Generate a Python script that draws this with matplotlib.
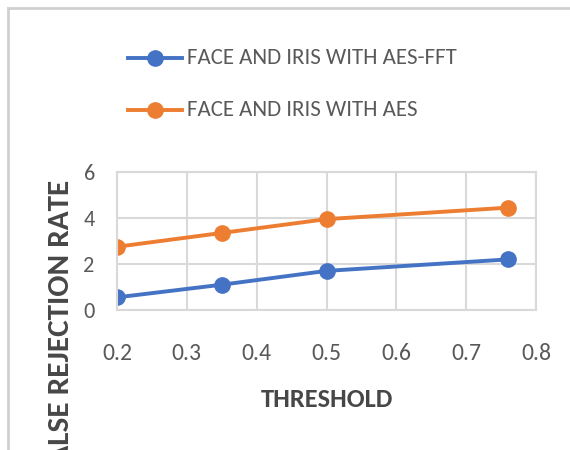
import matplotlib
matplotlib.use("Agg")
import matplotlib.pyplot as plt
from matplotlib import font_manager
from matplotlib.lines import Line2D

thresholds = [0.2, 0.35, 0.5, 0.76]
aes_fft = [0.55, 1.1, 1.7, 2.2]
aes = [2.75, 3.35, 3.95, 4.45]
series_names = ["FACE AND IRIS WITH AES-FFT", "FACE AND IRIS WITH AES"]
x_ticks = [0.2, 0.3, 0.4, 0.5, 0.6, 0.7, 0.8]
y_ticks = [0, 2, 4, 6]

available = {f.name for f in font_manager.fontManager.ttflist}
preferred = ["Carlito", "Calibri", "Liberation Sans Narrow", "Roboto Condensed",
             "Open Sans Condensed", "PT Sans Narrow", "Roboto"]
base = next((f for f in preferred if f in available), "DejaVu Sans")
plt.rcParams["font.family"] = [base, "DejaVu Sans"]

BLUE = "#4472c4"
ORANGE = "#ed7d31"
GRID = "#d9d9d9"
TXT = "#595959"
LABEL = "#474747"

fig = plt.figure(figsize=(5.7, 4.5), dpi=100)
ax = fig.add_axes([117 / 570, 1 - 310 / 450, (536 - 117) / 570, (310 - 172) / 450])

ax.plot(thresholds, aes_fft, color=BLUE, lw=2.8, marker="o", ms=11, label=series_names[0])
ax.plot(thresholds, aes, color=ORANGE, lw=2.8, marker="o", ms=11, label=series_names[1])

ax.set_xlim(0.2, 0.8)
ax.set_ylim(0, 6)
ax.set_xticks(x_ticks)
ax.set_xticklabels([f"{v:.1f}" for v in x_ticks])
ax.set_yticks(y_ticks)
ax.grid(True, color=GRID, lw=1.5)
ax.set_axisbelow(True)
for s in ax.spines.values():
    s.set_color(GRID)
    s.set_linewidth(1.5)
ax.tick_params(length=0, colors=TXT)
ax.tick_params(axis="x", labelsize=17, pad=24)
ax.tick_params(axis="y", labelsize=16, pad=16)

ax.set_xlabel("THRESHOLD", fontsize=19, fontweight="bold", color=LABEL, labelpad=17)
fig.text(61 / 570, 1 - 180 / 450, "FALSE REJECTION RATE", rotation=90, ha="center", va="top",
         fontsize=22.5, fontweight="bold", color=LABEL)

# legend entries above the plot
for name, col, ypx in [(series_names[0], BLUE, 58), (series_names[1], ORANGE, 110)]:
    y = 1 - ypx / 450
    fig.add_artist(Line2D([128 / 570, 182 / 570], [y, y], color=col, lw=2.8,
                          transform=fig.transFigure))
    fig.add_artist(Line2D([155 / 570], [y], color=col, marker="o", ms=11,
                          transform=fig.transFigure))
    fig.text(187 / 570, y, name, ha="left", va="center", fontsize=16.5, color=TXT)

# outer frame edges
fig.add_artist(Line2D([8 / 570, 8 / 570], [0, 1 - 8 / 450], color="#d0d0d0", lw=2,
                      transform=fig.transFigure))
fig.add_artist(Line2D([8 / 570, 1], [1 - 8 / 450, 1 - 8 / 450], color="#d0d0d0", lw=2,
                      transform=fig.transFigure))

fig.savefig("out.png", dpi=100)
